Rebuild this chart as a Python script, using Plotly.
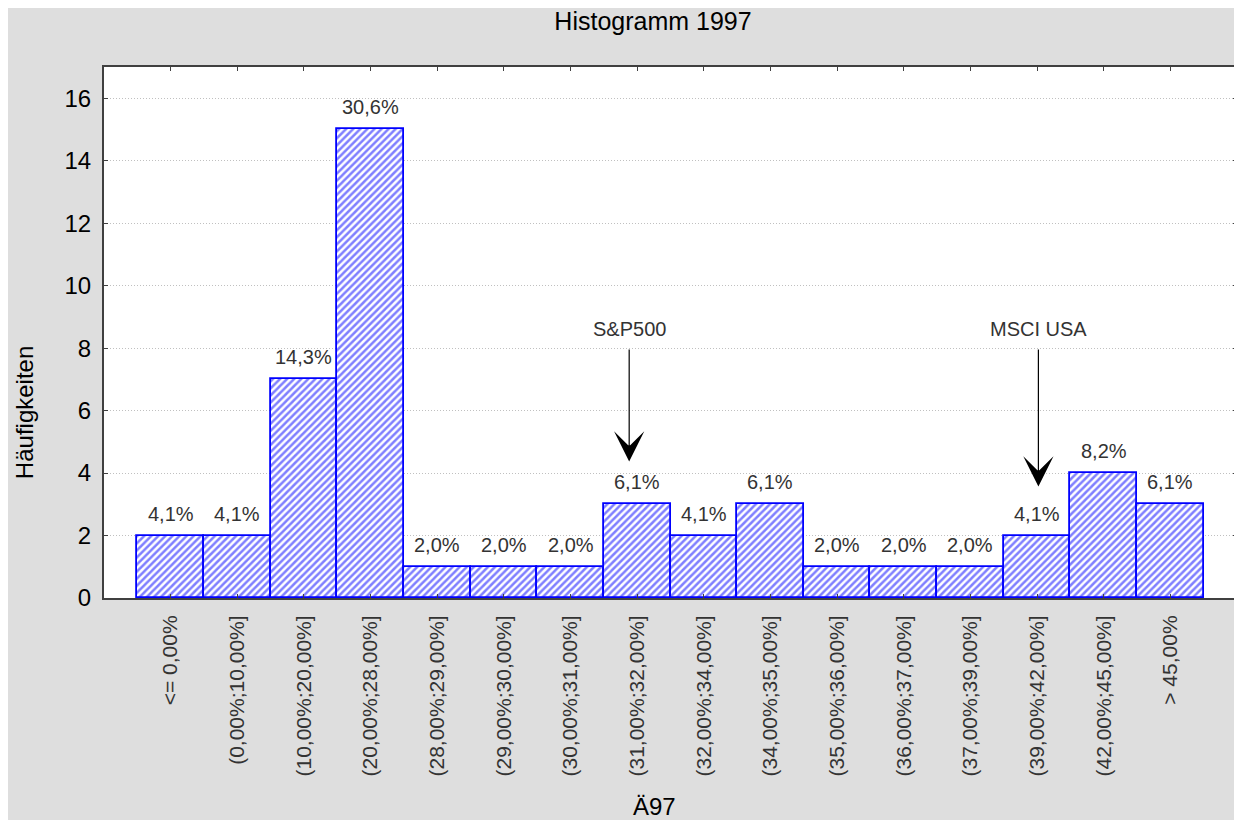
import plotly.graph_objects as go

categories = ["<= 0,00%", "(0,00%;10,00%]", "(10,00%;20,00%]", "(20,00%;28,00%]",
              "(28,00%;29,00%]", "(29,00%;30,00%]", "(30,00%;31,00%]", "(31,00%;32,00%]",
              "(32,00%;34,00%]", "(34,00%;35,00%]", "(35,00%;36,00%]", "(36,00%;37,00%]",
              "(37,00%;39,00%]", "(39,00%;42,00%]", "(42,00%;45,00%]", "> 45,00%"]
counts = [2, 2, 7, 15, 1, 1, 1, 3, 2, 3, 1, 1, 1, 2, 4, 3]
pct_labels = ["4,1%", "4,1%", "14,3%", "30,6%", "2,0%", "2,0%", "2,0%", "6,1%",
              "4,1%", "6,1%", "2,0%", "2,0%", "2,0%", "4,1%", "8,2%", "6,1%"]
y_ticks = [0, 2, 4, 6, 8, 10, 12, 14, 16]

# marker annotations: label, x position (category index), arrow tail y, arrow tip y
markers = [("S&P500", 6.88, 8.0, 4.37), ("MSCI USA", 13.02, 8.0, 3.57)]

OFF = 8  # page body margin
W, H = 1234, 812
ML, MT = 96, 59
MR = W - (1239 - OFF)
MB = H - 590
PW, PH = W - ML - MR, H - MT - MB

def px_x(p):  # page pixel -> paper x
    return (p - OFF - ML) / PW

def px_y(p):  # page pixel -> paper y
    return (H - MB - (p - OFF)) / PH

FONT = "Liberation Sans, Arial, sans-serif"

fig = go.Figure()
fig.add_trace(go.Bar(
    x=categories, y=counts, width=1.0,
    marker=dict(color="white",
                line=dict(color="#0000ff", width=1.8),
                pattern=dict(shape="/", fgcolor="#0000ff", bgcolor="white",
                             size=5, solidity=0.5)),
    hoverinfo="x+y",
))

annotations = []
for c, v, t in zip(categories, counts, pct_labels):
    annotations.append(dict(x=c, y=v, text=t, showarrow=False, yanchor="bottom",
                            yshift=9, font=dict(family=FONT, size=20, color="#333333")))

for name, xm, ytail, ytip in markers:
    annotations.append(dict(x=xm, y=ytip, ax=xm, ay=ytail, axref="x", ayref="y",
                            xref="x", yref="y", text="", showarrow=True,
                            arrowhead=3, arrowsize=4.2, arrowwidth=1.2,
                            arrowcolor="black", standoff=0, startstandoff=0))
    annotations.append(dict(x=xm, y=ytail, text=name, showarrow=False, yanchor="bottom",
                            yshift=6, font=dict(family=FONT, size=20, color="#333333")))

annotations.append(dict(xref="paper", yref="paper", x=px_x(25), y=px_y(413),
                        xanchor="center", yanchor="middle",
                        text="Häufigkeiten", textangle=-90, showarrow=False,
                        font=dict(family=FONT, size=24, color="black")))
annotations.append(dict(xref="paper", yref="paper", x=px_x(655), y=px_y(806),
                        xanchor="center", yanchor="middle",
                        text="Ä97", showarrow=False,
                        font=dict(family=FONT, size=24, color="black")))

fig.update_layout(
    width=W, height=H,
    margin=dict(l=ML, r=MR, t=MT, b=MB, pad=0),
    paper_bgcolor="#dedede", plot_bgcolor="white",
    showlegend=False, bargap=0,
    font=dict(family=FONT, color="black"),
    title=dict(text="Histogramm 1997", x=px_x(654), xref="paper", xanchor="center",
               y=1 - (21 - OFF) / H, yanchor="middle",
               font=dict(family=FONT, size=25, color="black")),
    annotations=annotations,
)
fig.update_xaxes(
    type="category", range=[-1, 16], tickangle=-90,
    ticks="inside", ticklen=4, tickcolor="#404040",
    showline=True, linecolor="#404040", linewidth=2, mirror="ticks",
    showgrid=False, ticklabelstandoff=7,
    tickfont=dict(family=FONT, size=21, color="#333333"),
)
fig.update_yaxes(
    range=[0, 17], tickvals=y_ticks, ticks="inside", ticklen=4, tickcolor="#404040",
    showline=True, linecolor="#404040", linewidth=2, mirror="ticks",
    showgrid=True, gridcolor="#c0c0c0", griddash="1px,2px", gridwidth=1,
    zeroline=False, ticklabelstandoff=6,
    tickfont=dict(family=FONT, size=24, color="black"),
)

fig.write_html("out.html")
